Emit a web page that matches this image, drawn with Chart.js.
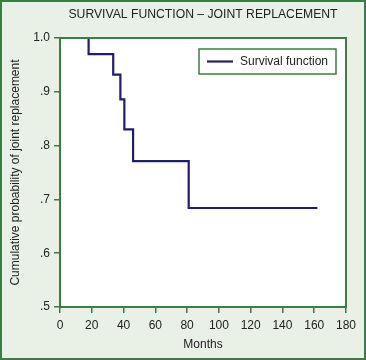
<!DOCTYPE html>
<html>
<head>
<meta charset="utf-8">
<script src="https://cdn.jsdelivr.net/npm/chart.js@4/dist/chart.umd.min.js"></script>
<style>
html,body{margin:0;padding:0;background:#e9f1e6;}
#wrap{width:366px;height:360px;position:relative;}
</style>
</head>
<body>
<div id="wrap"><canvas id="c" width="366" height="360"></canvas></div>
<script>
const titleText = 'SURVIVAL FUNCTION – JOINT REPLACEMENT';
const seriesName = 'Survival function';
const months = [18, 18, 33.5, 38, 40.5, 46, 81, 162];
const survival = [1.0, 0.970, 0.932, 0.886, 0.830, 0.771, 0.684, 0.684];
const yTickLabels = {'1':'1.0','0.9':'.9','0.8':'.8','0.7':'.7','0.6':'.6','0.5':'.5'};
const xTitle = 'Months';
const yTitle = 'Cumulative probability of joint replacement';

const green = '#3c7d45';
const navy = '#221c6c';
const FONT = '"Liberation Sans", Arial, sans-serif';

const bgPlugin = {
  id: 'bg',
  beforeDraw(chart) {
    const ctx = chart.ctx, a = chart.chartArea;
    ctx.save();
    ctx.fillStyle = '#e9f1e6';
    ctx.fillRect(0, 0, chart.width, chart.height);
    ctx.strokeStyle = green;
    ctx.lineWidth = 2;
    ctx.strokeRect(1, 1, chart.width - 2, chart.height - 2);
    ctx.fillStyle = '#ffffff';
    ctx.fillRect(a.left, a.top, a.right - a.left, a.bottom - a.top);
    ctx.restore();
  },
  afterDraw(chart) {
    const ctx = chart.ctx, a = chart.chartArea;
    ctx.save();
    ctx.strokeStyle = green;
    ctx.lineWidth = 2;
    ctx.strokeRect(a.left, a.top, a.right - a.left, a.bottom - a.top);
    // title
    ctx.fillStyle = '#222';
    ctx.font = '12.2px ' + FONT;
    ctx.textAlign = 'center';
    ctx.textBaseline = 'middle';
    ctx.fillText(titleText, (a.left + a.right) / 2 , 15);
    // legend box
    const bx = a.right - 147, by = a.top + 11, bw = 137, bh = 25;
    ctx.fillStyle = '#fff';
    ctx.fillRect(bx, by, bw, bh);
    ctx.lineWidth = 1.5;
    ctx.strokeRect(bx, by, bw, bh);
    ctx.strokeStyle = navy;
    ctx.lineWidth = 2.2;
    ctx.beginPath();
    ctx.moveTo(bx + 8, by + bh / 2);
    ctx.lineTo(bx + 34, by + bh / 2);
    ctx.stroke();
    ctx.fillStyle = '#222';
    ctx.font = '12px ' + FONT;
    ctx.textAlign = 'left';
    ctx.fillText(seriesName, bx + 41, by + bh / 2 + 0.5);
    ctx.restore();
  }
};

new Chart(document.getElementById('c'), {
  type: 'line',
  data: {
    datasets: [{
      label: seriesName,
      data: months.map((m, i) => ({x: m, y: survival[i]})),
      borderColor: navy,
      borderWidth: 2.2,
      pointRadius: 0,
      stepped: 'before',
      fill: false
    }]
  },
  options: {
    responsive: false,
    animation: false,
    layout: {padding: {left: 0, right: 20, top: 38, bottom: 0}},
    plugins: {legend: {display: false}, tooltip: {enabled: false}, title: {display: false}},
    scales: {
      x: {
        type: 'linear', min: 0, max: 180,
        ticks: {stepSize: 20, color: '#222', font: {family: FONT, size: 12}, padding: 5, maxRotation: 0},
        grid: {drawOnChartArea: false, drawTicks: true, tickLength: 6, color: green, lineWidth: 1.5},
        border: {display: false},
        title: {display: true, text: xTitle, color: '#222', font: {family: FONT, size: 12}, padding: {top: 0, bottom: 8}},
        afterFit(s) { s.height = 53; }
      },
      y: {
        type: 'linear', min: 0.5, max: 1.0,
        ticks: {stepSize: 0.1, color: '#222', font: {family: FONT, size: 12}, padding: 4,
          callback: v => yTickLabels[String(Math.round(v * 10) / 10)] || ''},
        grid: {drawOnChartArea: false, drawTicks: true, tickLength: 6, color: green, lineWidth: 1.5},
        border: {display: false},
        title: {display: true, text: yTitle, color: '#222', font: {family: FONT, size: 12}, padding: {top: 8, bottom: 0}},
        afterFit(s) { s.width = 60; }
      }
    }
  },
  plugins: [bgPlugin]
});
</script>
</body>
</html>
